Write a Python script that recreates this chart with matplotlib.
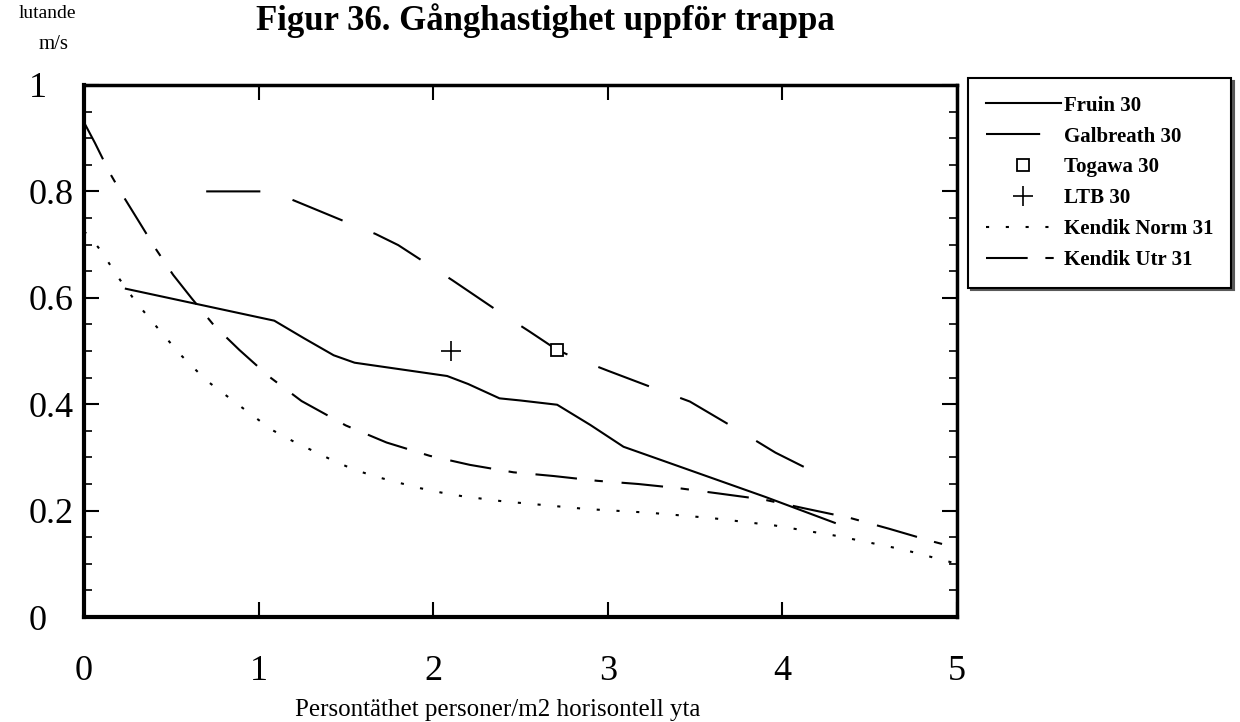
import matplotlib
matplotlib.use("Agg")
import matplotlib.pyplot as plt
from matplotlib.ticker import FixedLocator, MultipleLocator

plt.rcParams['font.family'] = ['Liberation Serif', 'DejaVu Serif']

# Fruin 30 (heldragen)
fruin_x = [0.24, 1.09, 1.26, 1.43, 1.55, 2.08, 2.20, 2.38, 2.50, 2.71, 2.90, 3.09, 3.28, 3.90, 4.30]
fruin_y = [0.617, 0.557, 0.524, 0.492, 0.478, 0.453, 0.438, 0.411, 0.407, 0.399, 0.361, 0.320, 0.298, 0.226, 0.177]

# Galbreath 30 (lång streckad)
galb_x = [0.70, 1.02, 1.18, 1.49, 1.67, 1.80, 1.95, 2.11, 2.38, 2.55, 2.71, 2.82, 3.00, 3.29, 3.47, 3.78, 3.96, 4.27]
galb_y = [0.800, 0.800, 0.786, 0.744, 0.720, 0.699, 0.667, 0.633, 0.573, 0.537, 0.502, 0.486, 0.463, 0.427, 0.405, 0.345, 0.309, 0.258]

# enstaka mätpunkter
togawa_x = [2.71]
togawa_y = [0.502]
ltb_x = [2.10]
ltb_y = [0.500]

# Kendik Norm 31 (prickad)
knorm_x = [0.00, 0.044, 0.10, 0.193, 0.30, 0.42, 0.55, 0.70, 0.88, 1.075, 1.20, 1.32, 1.44, 1.556,
           1.682, 1.808, 1.928, 2.045, 2.168, 2.41, 2.516, 2.878, 3.24, 3.594, 3.957, 4.32, 4.689, 4.92, 5.00]
knorm_y = [0.725, 0.711, 0.687, 0.640, 0.591, 0.544, 0.494, 0.445, 0.400, 0.352, 0.330, 0.311, 0.292, 0.276,
           0.263, 0.252, 0.242, 0.234, 0.227, 0.217, 0.214, 0.203, 0.196, 0.186, 0.172, 0.152, 0.127, 0.107, 0.100]

# Kendik Utr 31 (streck-punkt)
kutr_x = [0.00, 0.063, 0.149, 0.225, 0.321, 0.407, 0.511, 0.617, 0.745, 0.89, 1.06, 1.246, 1.50, 1.733,
          1.98, 2.21, 2.46, 2.69, 2.94, 3.175, 3.41, 3.64, 3.89, 4.13, 4.39, 4.61, 4.86, 5.00]
kutr_y = [0.930, 0.891, 0.834, 0.791, 0.740, 0.694, 0.643, 0.599, 0.548, 0.502, 0.452, 0.406, 0.360, 0.328,
          0.303, 0.286, 0.272, 0.265, 0.256, 0.250, 0.242, 0.232, 0.221, 0.204, 0.186, 0.166, 0.142, 0.130]

y_ticks = [0, 0.2, 0.4, 0.6, 0.8, 1.0]
y_ticklabels = ['0', '0.2', '0.4', '0.6', '0.8', '1']
x_ticks = [0, 1, 2, 3, 4, 5]
x_ticklabels = ['0', '1', '2', '3', '4', '5']

fig = plt.figure(figsize=(12.4, 7.22), dpi=100)
ax = fig.add_axes([0.0677, 0.1454, 0.7041, 0.7369])

lw = 1.5
ax.plot(fruin_x, fruin_y, color='black', lw=lw, label='Fruin 30')
ax.plot(galb_x, galb_y, color='black', lw=lw, dashes=(26, 16), label='Galbreath 30')
ax.plot(togawa_x, togawa_y, linestyle='none', marker='s', markersize=8,
        markerfacecolor='white', markeredgecolor='black', markeredgewidth=1.3, label='Togawa 30')
ax.plot(ltb_x, ltb_y, linestyle='none', marker='+', markersize=14,
        markeredgecolor='black', markeredgewidth=1.2, label='LTB 30')
ax.plot(knorm_x, knorm_y, color='black', lw=lw, dashes=(1.5, 8), label='Kendik Norm 31')
ax.plot(kutr_x, kutr_y, color='black', lw=lw, dashes=(20, 8.5, 4, 9), label='Kendik Utr 31')

ax.set_xlim(0, 5)
ax.set_ylim(0, 1)

for name, sp in ax.spines.items():
    sp.set_linewidth(3 if name in ('left', 'bottom') else 2.5)

ax.xaxis.set_major_locator(FixedLocator(x_ticks))
ax.set_xticklabels(x_ticklabels)
ax.yaxis.set_major_locator(FixedLocator(y_ticks))
ax.set_yticklabels(y_ticklabels)
ax.yaxis.set_minor_locator(MultipleLocator(0.05))

ax.tick_params(axis='both', which='major', direction='in', length=11, width=1.5,
               top=True, right=True, labelsize=26)
ax.tick_params(axis='y', which='minor', direction='in', length=5.5, width=1.2,
               left=True, right=True)
ax.tick_params(axis='x', which='major', pad=27)
ax.tick_params(axis='y', which='major', pad=40)
for lab in ax.get_yticklabels():
    lab.set_horizontalalignment('left')

ax.set_xlabel('Persontäthet personer/m2 horisontell yta', fontsize=18, labelpad=6)
ax.xaxis.set_label_coords(0.474, -0.155)

fig.text(0.44, 0.972, 'Figur 36. Gånghastighet uppför trappa', fontsize=25,
         fontweight='bold', ha='center', va='center')
fig.text(0.038, 0.981, 'lutande', fontsize=14, ha='center', va='center')
fig.text(0.043, 0.938, 'm/s', fontsize=15, ha='center', va='center')

leg = ax.legend(loc='upper left', bbox_to_anchor=(0.7806, 0.892), bbox_transform=fig.transFigure,
                borderaxespad=0, fancybox=False, shadow={'color': '0.35', 'alpha': 1},
                prop={'family': 'Liberation Serif', 'weight': 'bold', 'size': 15},
                handlelength=3.6, handletextpad=0.15, labelspacing=0.52, borderpad=0.85,
                edgecolor='black', framealpha=1)
leg.get_frame().set_linewidth(1.5)

fig.savefig('out.png', dpi=100)
